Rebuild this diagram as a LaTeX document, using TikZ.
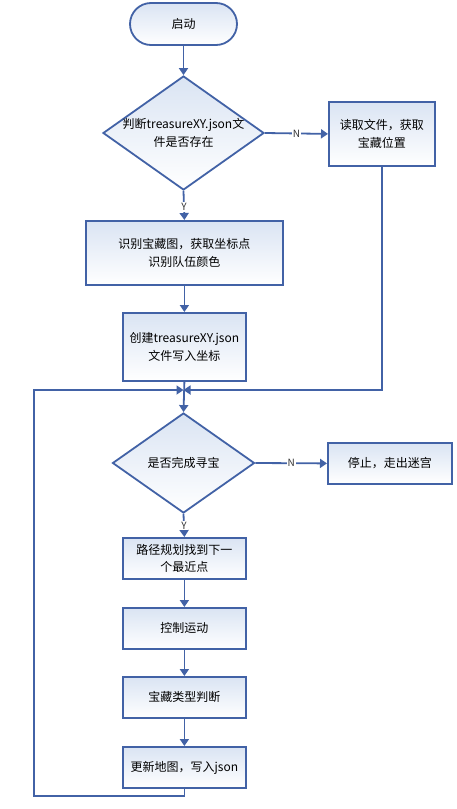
\documentclass[tikz,border=0pt]{standalone}
\usepackage{fontspec}
\setmainfont{Noto Sans CJK SC}
\usetikzlibrary{shapes.geometric,arrows.meta}
\definecolor{bord}{RGB}{66,98,166}
\definecolor{topfill}{RGB}{218,228,243}
\tikzset{
  x=1pt,y=-1pt,
  base/.style={draw=bord,line width=1.8pt,top color=topfill,bottom color=white,inner sep=0pt},
  boxnode/.style={base,rectangle,anchor=north west},
  txt/.style={font=\fontsize{12}{17.5}\selectfont,align=center,inner sep=0pt},
  conn/.style={draw=bord,line width=1.8pt,-{Triangle[width=9pt,length=7pt]}},
  lab/.style={fill=white,inner sep=1pt,font=\fontsize{10}{10}\selectfont,text=black!80}
}
\begin{document}
\begin{tikzpicture}
\useasboundingbox (0,0) rectangle (456,809);
% start
\node[base,rectangle,rounded corners=21pt,minimum width=107pt,minimum height=42pt] (start) at (183.5,24) {};
\node[txt] (starttxt) at (start) {启动};
% decision 1
\node[base,diamond,minimum width=161pt,minimum height=114pt] (d1) at (183.5,133) {};
\node[txt] (d1txt) at (d1) {判断treasureXY.json文\\件是否存在};
% read box
\node[boxnode,minimum width=106pt,minimum height=64pt] (r1) at (328,101) {};
\node[txt] (r1txt) at (r1) {读取文件，获取\\宝藏位置};
% box 2
\node[boxnode,minimum width=197pt,minimum height=64pt] (b2) at (85,220) {};
\node[txt] (b2txt) at (b2) {识别宝藏图，获取坐标点\\识别队伍颜色};
% box 3
\node[boxnode,minimum width=123pt,minimum height=68pt] (b3) at (122,312) {};
\node[txt] (b3txt) at (b3) {创建treasureXY.json\\文件写入坐标};
% decision 2
\node[base,diamond,minimum width=142pt,minimum height=100pt] (d2) at (183.5,463) {};
\node[txt] (d2txt) at (d2) {是否完成寻宝};
% stop box
\node[boxnode,minimum width=124pt,minimum height=41pt] (r2) at (327,442) {};
\node[txt] (r2txt) at (r2) {停止，走出迷宫};
% loop boxes
\node[boxnode,minimum width=123pt,minimum height=41pt] (b5) at (122,537) {};
\node[txt] (b5txt) at (b5) {路径规划找到下一\\个最近点};
\node[boxnode,minimum width=123pt,minimum height=41pt] (b6) at (122,607) {};
\node[txt] (b6txt) at (b6) {控制运动};
\node[boxnode,minimum width=123pt,minimum height=41pt] (b7) at (122,676) {};
\node[txt] (b7txt) at (b7) {宝藏类型判断};
\node[boxnode,minimum width=123pt,minimum height=41pt] (b8) at (122,746) {};
\node[txt] (b8txt) at (b8) {更新地图，写入json};
% coordinates
\coordinate (J) at (183.5,390);
\coordinate (L1) at (34,796);
\coordinate (L2) at (34,390);
% connectors
\draw[conn] (start.south) -- (d1.north);
\draw[conn] (d1.east) -- node[lab,pos=0.5] (n1) {N} (r1.west);
\draw[conn] (d1.south) -- node[lab,pos=0.55] (y1) {Y} (b2.north);
\draw[conn] (b2.south) -- (b3.north);
\draw[conn] (r1.south) |- (J);
\draw[conn] (b3.south) -- (d2.north);
\draw[conn] (b8.south) |- (L1) -- (L2) -- (J);
\draw[conn] (d2.east) -- node[lab,pos=0.5] (n2) {N} (r2.west);
\draw[conn] (d2.south) -- node[lab,pos=0.5] (y2) {Y} (b5.north);
\draw[conn] (b5.south) -- (b6.north);
\draw[conn] (b6.south) -- (b7.north);
\draw[conn] (b7.south) -- (b8.north);
\end{tikzpicture}
\end{document}
